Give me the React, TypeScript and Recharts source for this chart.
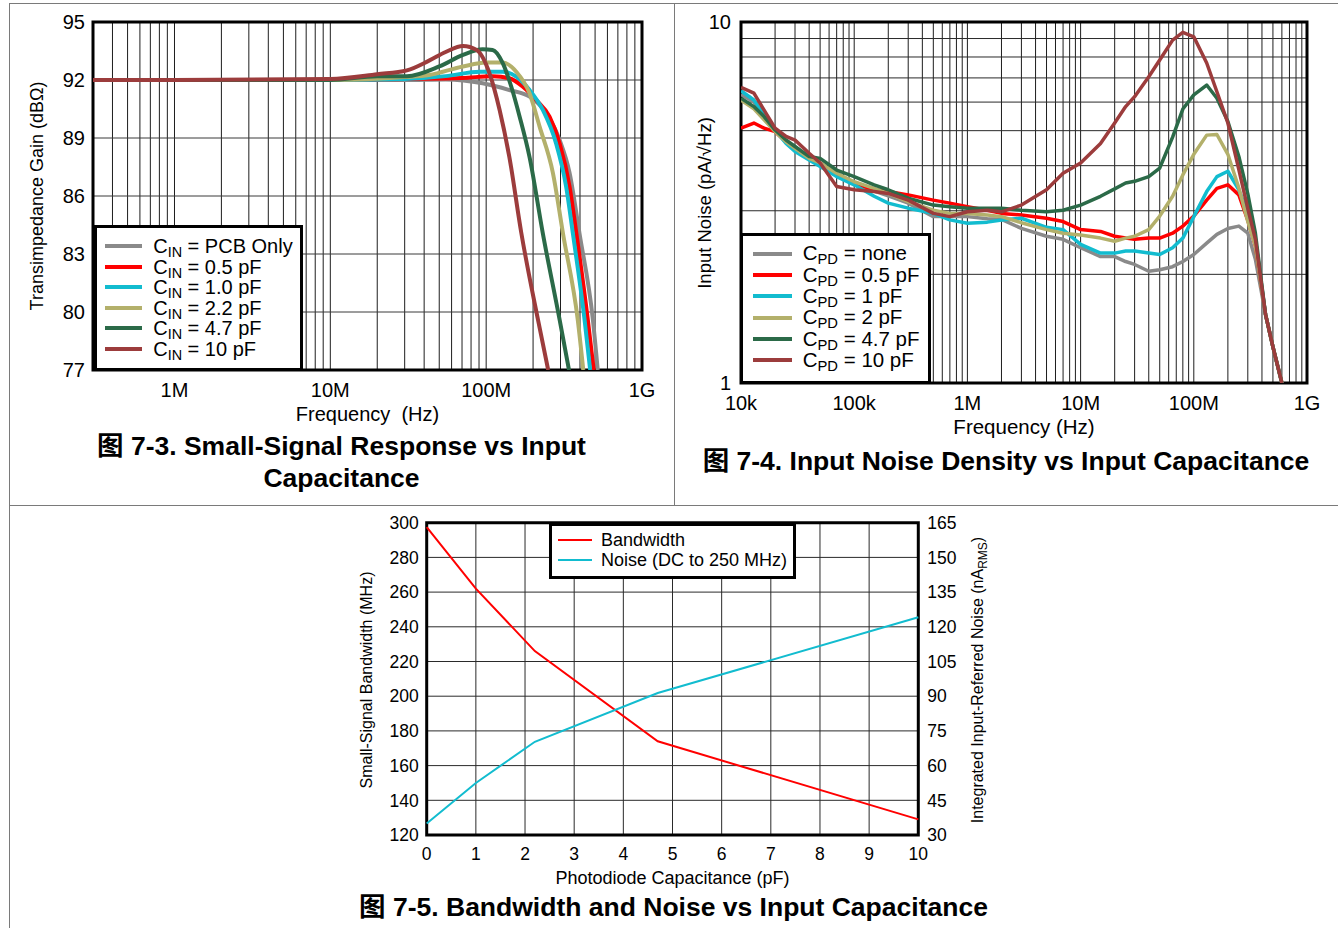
import React from "react";
import {
  LineChart,
  Line,
  XAxis,
  YAxis,
  CartesianGrid,
  ReferenceArea,
  Legend,
} from "recharts";

const FONT = "'Liberation Sans', Arial, Helvetica, sans-serif";
const CAPTION_FONT = "'Liberation Sans', Arial, 'Noto Sans CJK SC', sans-serif";

const GRAY = "#8a8a8a";
const RED = "#ff0000";
const CYAN = "#12bccf";
const KHAKI = "#b3b06b";
const GREEN = "#2b6a48";
const BROWN = "#9c3c3c";

// gridline positions for log axes (1..9 x each decade)
const decadeTicks = (fromExp: number, toExp: number) => {
  const t: number[] = [];
  for (let e = fromExp; e < toExp; e++) for (let m = 1; m < 10; m++) t.push(m * 10 ** e);
  t.push(10 ** toExp);
  return t;
};

// ---------- 图 7-3 : small-signal response ----------
const gainXLabelAt = [1e6, 1e7, 1e8, 1e9];
const gainXLabels = ["1M", "10M", "100M", "1G"];
const gainYTicks = [77, 80, 83, 86, 89, 92, 95];

const gainPcbFreq = [3e5, 1e6, 1e7, 3e7, 5.5e7, 9.5e7, 1.41e8, 1.9e8, 2.43e8, 2.96e8, 3.43e8, 3.97e8, 4.84e8, 5.2e8];
const gainPcb = [92, 92, 92, 92, 92.03, 91.83, 91.48, 91.14, 90.28, 88.9, 87.2, 84.07, 79.6, 77];
const gain05Freq = [3e5, 1e6, 1e7, 3e7, 7e7, 1.1e8, 1.41e8, 1.72e8, 2.09e8, 2.55e8, 2.96e8, 3.43e8, 3.79e8, 4.49e8, 4.9e8];
const gain05 = [92, 92, 92, 92.05, 92.1, 92.2, 92.09, 91.65, 90.97, 90.1, 88.72, 86.48, 84.07, 79.6, 77];
const gain10Freq = [3e5, 1e6, 1e7, 3e7, 5.5e7, 9.1e7, 1.28e8, 1.56e8, 1.9e8, 2.31e8, 2.81e8, 3.26e8, 3.6e8, 4.28e8, 4.65e8];
const gain10 = [92, 92, 92, 92.05, 92.2, 92.43, 92.43, 92.17, 91.48, 90.45, 88.72, 86.48, 84.07, 79.6, 77];
const gain22Freq = [3e5, 1e6, 1e7, 3e7, 4.3e7, 7.1e7, 1e8, 1.28e8, 1.56e8, 1.9e8, 2.2e8, 2.68e8, 3.11e8, 3.87e8, 4.2e8];
const gain22 = [92, 92, 92, 92.15, 92.26, 92.7, 92.9, 92.9, 92.43, 91.3, 89.6, 87.2, 84.07, 79.6, 77];
const gain47Freq = [3e5, 1e6, 1e7, 2e7, 3.1e7, 5e7, 7.1e7, 9.5e7, 1.1e8, 1.28e8, 1.45e8, 1.64e8, 1.9e8, 2.31e8, 2.96e8, 3.4e8];
const gain47 = [92, 92, 92, 92.2, 92.2, 92.7, 93.3, 93.59, 93.55, 92.86, 91.65, 90.1, 88.0, 84.07, 79.6, 77];
const gain100Freq = [3e5, 1e6, 1e7, 2e7, 3.1e7, 4.3e7, 5.5e7, 7.1e7, 8.7e7, 1.05e8, 1.22e8, 1.41e8, 1.68e8, 2.15e8, 2.5e8];
const gain100 = [92, 92, 92.05, 92.3, 92.5, 93.0, 93.45, 93.76, 93.55, 92.35, 90.45, 88.0, 84.1, 79.6, 77];

const gainSeries = [
  { key: "pcb", label: "PCB Only", color: GRAY, freq: gainPcbFreq, gain: gainPcb },
  { key: "c05", label: "0.5 pF", color: RED, freq: gain05Freq, gain: gain05 },
  { key: "c10", label: "1.0 pF", color: CYAN, freq: gain10Freq, gain: gain10 },
  { key: "c22", label: "2.2 pF", color: KHAKI, freq: gain22Freq, gain: gain22 },
  { key: "c47", label: "4.7 pF", color: GREEN, freq: gain47Freq, gain: gain47 },
  { key: "c100", label: "10 pF", color: BROWN, freq: gain100Freq, gain: gain100 },
];

// ---------- 图 7-4 : input noise density ----------
const noiseXLabelAt = [1e4, 1e5, 1e6, 1e7, 1e8, 1e9];
const noiseXLabels = ["10k", "100k", "1M", "10M", "100M", "1G"];
const noiseYTicks = [1, 2, 3, 4, 5, 6, 7, 8, 9, 10];

const noiseFreq = [
  1e4, 1.3e4, 1.6e4, 2e4, 2.5e4, 3e4, 4e4, 5e4, 7e4, 1e5,
  1.5e5, 2e5, 3e5, 5e5, 7e5, 1e6, 1.5e6, 2e6, 3e6, 5e6,
  7e6, 1e7, 1.5e7, 2e7, 2.5e7, 3e7, 4e7, 5e7, 6.5e7, 8e7,
  1e8, 1.3e8, 1.6e8, 2e8, 2.5e8, 3e8, 3.5e8, 4.3e8, 5e8, 6e8,
];
const noiseNone = [
  6.3, 6.0, 5.5, 5.0, 4.65, 4.52, 4.2, 4.0, 3.75, 3.55,
  3.4, 3.3, 3.15, 2.89, 2.89, 2.89, 2.85, 2.84, 2.68, 2.55,
  2.5, 2.37, 2.24, 2.24, 2.17, 2.13, 2.04, 2.06, 2.1, 2.17,
  2.27, 2.44, 2.58, 2.68, 2.72, 2.6, 2.2, 1.55, 1.26, 1.0,
];
const noise05 = [
  5.08, 5.25, 5.08, 4.97, 4.66, 4.47, 4.19, 4.07, 3.77, 3.58,
  3.43, 3.39, 3.32, 3.21, 3.15, 3.08, 3.01, 2.95, 2.92, 2.86,
  2.8, 2.66, 2.63, 2.55, 2.52, 2.5, 2.52, 2.52, 2.6, 2.72,
  2.9, 3.21, 3.46, 3.54, 3.32, 2.82, 2.4, 1.55, 1.26, 1.0,
];
const noise1 = [
  6.45, 6.08, 5.53, 5.02, 4.61, 4.38, 4.15, 3.98, 3.73, 3.54,
  3.29, 3.15, 3.05, 2.95, 2.83, 2.77, 2.79, 2.83, 2.86, 2.7,
  2.66, 2.42, 2.29, 2.29, 2.32, 2.32, 2.29, 2.27, 2.37, 2.52,
  2.89, 3.39, 3.73, 3.86, 3.43, 2.95, 2.5, 1.55, 1.26, 1.0,
];
const noise2 = [
  6.08, 5.75, 5.36, 4.97, 4.66, 4.47, 4.19, 4.07, 3.81, 3.61,
  3.46, 3.35, 3.18, 3.01, 2.95, 2.95, 2.92, 2.89, 2.78, 2.66,
  2.6, 2.57, 2.52, 2.47, 2.52, 2.55, 2.66, 2.9, 3.29, 3.77,
  4.3, 4.86, 4.88, 4.3, 3.47, 2.8, 2.4, 1.55, 1.26, 1.0,
];
const noise47 = [
  6.15, 5.83, 5.47, 5.02, 4.71, 4.52, 4.24, 4.19, 3.89, 3.73,
  3.54, 3.43, 3.25, 3.11, 3.08, 3.05, 3.05, 3.05, 3.01, 2.98,
  3.01, 3.11, 3.29, 3.45, 3.58, 3.62, 3.73, 3.94, 4.8, 5.74,
  6.28, 6.69, 6.15, 5.3, 4.24, 3.34, 2.6, 1.55, 1.26, 1.0,
];
const noise10 = [
  6.59, 6.35, 5.7, 5.08, 4.82, 4.71, 4.33, 4.07, 3.5, 3.43,
  3.39, 3.35, 3.21, 2.95, 2.89, 2.98, 3.01, 2.98, 3.11, 3.43,
  3.81, 4.07, 4.61, 5.25, 5.83, 6.21, 7.05, 7.85, 8.91, 9.36,
  9.1, 7.7, 6.41, 5.25, 3.9, 3.04, 2.5, 1.55, 1.26, 1.0,
];

const noiseSeries = [
  { key: "none", label: "none", color: GRAY, values: noiseNone },
  { key: "p05", label: "0.5 pF", color: RED, values: noise05 },
  { key: "p1", label: "1 pF", color: CYAN, values: noise1 },
  { key: "p2", label: "2 pF", color: KHAKI, values: noise2 },
  { key: "p47", label: "4.7 pF", color: GREEN, values: noise47 },
  { key: "p10", label: "10 pF", color: BROWN, values: noise10 },
];

const noiseTable = noiseFreq.map((f, i) => {
  const row: Record<string, number> = { f };
  noiseSeries.forEach((s) => (row[s.key] = s.values[i]));
  return row;
});

// ---------- 图 7-5 : bandwidth and noise vs capacitance ----------
const capPf = [0, 1, 2.2, 4.7, 10];
const bandwidthMHz = [297.5, 262, 226, 174, 129];
const integratedNoiseNa = [35, 52.5, 70.3, 91.4, 124.1];
const capTicks = [0, 1, 2, 3, 4, 5, 6, 7, 8, 9, 10];
const bwTicks = [120, 140, 160, 180, 200, 220, 240, 260, 280, 300];
const rmsTicks = [30, 45, 60, 75, 90, 105, 120, 135, 150, 165];

const capTable = capPf.map((c, i) => ({ c, bw: bandwidthMHz[i], noise: integratedNoiseNa[i] }));

const labelFrom = (at: number[], labels: string[]) => (v: number) => {
  const i = at.indexOf(v);
  return i >= 0 ? labels[i] : "";
};

const Sub = ({ children }: { children: React.ReactNode }) => (
  <sub style={{ fontSize: "0.72em", verticalAlign: "-0.28em", lineHeight: 0 }}>{children}</sub>
);

type LegendRow = { color: string; text: React.ReactNode };

const LegendBox = ({ rows, width, height, padTop, padLeft, rowH, lineW, lineH, gap, fontSize }: any) => (
  <div
    style={{
      width,
      height,
      boxSizing: "border-box",
      border: "3px solid #000",
      background: "#fff",
      paddingTop: padTop,
      paddingLeft: padLeft,
      fontFamily: FONT,
      fontSize,
      color: "#000",
    }}
  >
    {rows.map((r: LegendRow, i: number) => (
      <div key={i} style={{ height: rowH, display: "flex", alignItems: "center", whiteSpace: "nowrap" }}>
        <span style={{ display: "inline-block", width: lineW, height: lineH, background: r.color, marginRight: gap }} />
        <span style={{ lineHeight: 1 }}>{r.text}</span>
      </div>
    ))}
  </div>
);

const title = (text: React.ReactNode, x: number, y: number, size: number, rotate = false) => () => (
  <text
    x={x}
    y={y}
    fontSize={size}
    fontFamily={FONT}
    fill="#000"
    textAnchor="middle"
    transform={rotate ? `rotate(-90 ${x} ${y})` : undefined}
  >
    {text}
  </text>
);

const tickStyle = (size: number) => ({ fill: "#000", fontSize: size, fontFamily: FONT });

const Frame = ({ left, top, width, height }: any) => (
  <div style={{ position: "absolute", left, top, width, height, background: "#7a7a7a" }} />
);

const GainChart = () => (
  <div style={{ position: "absolute", left: 0, top: 0 }}>
    <LineChart width={680} height={440} margin={{ top: 22, right: 38, bottom: 20, left: 33 }}>
      <CartesianGrid horizontal={false} stroke="#1e1e1e" />
      <CartesianGrid vertical={false} stroke="#3a3a3a" />
      <XAxis
        dataKey="f"
        type="number"
        scale="log"
        domain={[3e5, 1e9]}
        allowDataOverflow
        ticks={decadeTicks(5, 9).filter((f) => f > 3e5)}
        interval={0}
        tickFormatter={labelFrom(gainXLabelAt, gainXLabels)}
        tickLine={false}
        axisLine={false}
        tickSize={6}
        tickMargin={7}
        height={50}
        tick={tickStyle(20)}
        label={{ content: title("Frequency\u00a0 (Hz)", 367.5, 421, 20) }}
      />
      <YAxis
        type="number"
        domain={[77, 95]}
        ticks={gainYTicks}
        allowDataOverflow
        interval={0}
        width={60}
        tickLine={false}
        axisLine={false}
        tickSize={6}
        tickMargin={2}
        tick={tickStyle(20)}
        label={{ content: title("Transimpedance Gain (dBΩ)", 43, 196, 18, true) }}
      />
      {gainSeries.map((s) => (
        <Line
          key={s.key}
          data={s.freq.map((f, i) => ({ f, v: s.gain[i] }))}
          dataKey="v"
          type="monotone"
          stroke={s.color}
          strokeWidth={4}
          dot={false}
          activeDot={false}
          isAnimationActive={false}
        />
      ))}
      <ReferenceArea x1={3e5} x2={1e9} y1={77} y2={95} fill="none" stroke="#000" strokeWidth={3} ifOverflow="visible" />
      <Legend
        layout="vertical"
        align="center"
        verticalAlign="middle"
        wrapperStyle={{ left: 94, top: 225, width: 209, height: 146 }}
        content={() => (
          <LegendBox
            rows={gainSeries.map((s) => ({ color: s.color, text: <>C<Sub>IN</Sub> = {s.label}</> }))}
            width={209}
            height={146}
            padTop={7.7}
            padLeft={7.7}
            rowH={20.6}
            lineW={37}
            lineH={4}
            gap={11.5}
            fontSize={20}
          />
        )}
      />
    </LineChart>
  </div>
);

const NoiseChart = () => (
  <div style={{ position: "absolute", left: 676, top: 0 }}>
    <LineChart width={662} height={440} data={noiseTable} margin={{ top: 22, right: 31, bottom: 7, left: 15 }}>
      <CartesianGrid horizontal={false} stroke="#1e1e1e" />
      <CartesianGrid vertical={false} stroke="#2a2a2a" />
      <XAxis
        dataKey="f"
        type="number"
        scale="log"
        domain={[1e4, 1e9]}
        allowDataOverflow
        ticks={decadeTicks(4, 9)}
        interval={0}
        tickFormatter={labelFrom(noiseXLabelAt, noiseXLabels)}
        tickLine={false}
        axisLine={false}
        tickSize={6}
        tickMargin={7}
        height={50}
        tick={tickStyle(20)}
        label={{ content: title("Frequency (Hz)", 348, 434, 20.5) }}
      />
      <YAxis
        type="number"
        scale="log"
        domain={[1, 10]}
        ticks={noiseYTicks}
        allowDataOverflow
        interval={0}
        tickFormatter={(v: number) => (v === 1 || v === 10 ? String(v) : "")}
        width={50}
        tickLine={false}
        axisLine={false}
        tickSize={6}
        tickMargin={4}
        tick={tickStyle(20)}
        label={{ content: title("Input Noise (pA/√Hz)", 35, 203, 18.5, true) }}
      />
      {noiseSeries.map((s) => (
        <Line
          key={s.key}
          dataKey={s.key}
          type="linear"
          stroke={s.color}
          strokeWidth={3.5}
          strokeLinejoin="round"
          dot={false}
          activeDot={false}
          isAnimationActive={false}
        />
      ))}
      <ReferenceArea x1={1e4} x2={1e9} y1={1} y2={10} fill="none" stroke="#000" strokeWidth={3} ifOverflow="visible" />
      <Legend
        layout="vertical"
        align="center"
        verticalAlign="middle"
        wrapperStyle={{ left: 64, top: 233, width: 191, height: 151 }}
        content={() => (
          <LegendBox
            rows={noiseSeries.map((s) => ({ color: s.color, text: <>C<Sub>PD</Sub> = {s.label}</> }))}
            width={191}
            height={151}
            padTop={7}
            padLeft={9.7}
            rowH={21.3}
            lineW={39}
            lineH={4}
            gap={11}
            fontSize={20.5}
          />
        )}
      />
    </LineChart>
  </div>
);

const BandwidthChart = () => (
  <div style={{ position: "absolute", left: 340, top: 505 }}>
    <LineChart width={680} height={390} data={capTable} margin={{ top: 17.7, right: 21.7, bottom: 15, left: 26.7 }}>
      <CartesianGrid stroke="#2a2a2a" yAxisId="bw" />
      <XAxis
        dataKey="c"
        type="number"
        domain={[0, 10]}
        ticks={capTicks}
        interval={0}
        tickLine={false}
        axisLine={false}
        tickSize={6}
        tickMargin={7}
        height={45}
        tick={tickStyle(17.5)}
        label={{ content: title("Photodiode Capacitance (pF)", 332.5, 378.5, 18) }}
      />
      <YAxis
        yAxisId="bw"
        type="number"
        domain={[120, 300]}
        ticks={bwTicks}
        interval={0}
        width={60}
        tickLine={false}
        axisLine={false}
        tickSize={6}
        tickMargin={2}
        tick={tickStyle(17.5)}
        label={{ content: title("Small-Signal Bandwidth (MHz)", 31.5, 175, 16, true) }}
      />
      <YAxis
        yAxisId="noise"
        orientation="right"
        type="number"
        domain={[30, 165]}
        ticks={rmsTicks}
        interval={0}
        width={80}
        tickLine={false}
        axisLine={false}
        tickSize={6}
        tickMargin={3}
        tick={tickStyle(17.5)}
        label={{
          content: title(
            <>
              <tspan>Integrated Input-Referred Noise (nA</tspan>
              <tspan fontSize={12} dy={4}>RMS</tspan>
              <tspan dy={-4}>)</tspan>
            </>,
            643,
            175,
            16,
            true
          ),
        }}
      />
      <Line yAxisId="bw" dataKey="bw" type="linear" stroke={RED} strokeWidth={2} dot={false} activeDot={false} isAnimationActive={false} />
      <Line yAxisId="noise" dataKey="noise" type="linear" stroke={CYAN} strokeWidth={2} dot={false} activeDot={false} isAnimationActive={false} />
      <ReferenceArea yAxisId="bw" x1={0} x2={10} y1={120} y2={300} fill="none" stroke="#000" strokeWidth={3} ifOverflow="visible" />
      <Legend
        layout="vertical"
        align="center"
        verticalAlign="middle"
        wrapperStyle={{ left: 209, top: 18, width: 247, height: 56 }}
        content={() => (
          <LegendBox
            rows={[
              { color: RED, text: "Bandwidth" },
              { color: CYAN, text: "Noise (DC to 250 MHz)" },
            ]}
            width={247}
            height={56}
            padTop={4.8}
            padLeft={6}
            rowH={19.3}
            lineW={34}
            lineH={2}
            gap={9}
            fontSize={18}
          />
        )}
      />
    </LineChart>
  </div>
);

const captionStyle: React.CSSProperties = {
  position: "absolute",
  fontFamily: CAPTION_FONT,
  fontWeight: "bold",
  fontSize: 26.5,
  lineHeight: "32px",
  textAlign: "center",
  color: "#000",
  whiteSpace: "nowrap",
};

export default function App() {
  return (
    <div style={{ position: "absolute", left: 0, top: 0, width: 1338, height: 928, background: "#fff", overflow: "hidden" }}>
      <Frame left={9} top={3} width={1329} height={1} />
      <Frame left={9} top={3} width={1} height={925} />
      <Frame left={674} top={3} width={1} height={502} />
      <Frame left={9} top={505} width={1329} height={1} />

      <GainChart />
      <NoiseChart />
      <BandwidthChart />

      <div style={{ ...captionStyle, left: 9, top: 430, width: 665 }}>
        图 7-3. Small-Signal Response vs Input
        <br />
        Capacitance
      </div>
      <div style={{ ...captionStyle, left: 674, top: 445, width: 664 }}>
        图 7-4. Input Noise Density vs Input Capacitance
      </div>
      <div style={{ ...captionStyle, left: 9, top: 891, width: 1329 }}>
        图 7-5. Bandwidth and Noise vs Input Capacitance
      </div>
    </div>
  );
}
